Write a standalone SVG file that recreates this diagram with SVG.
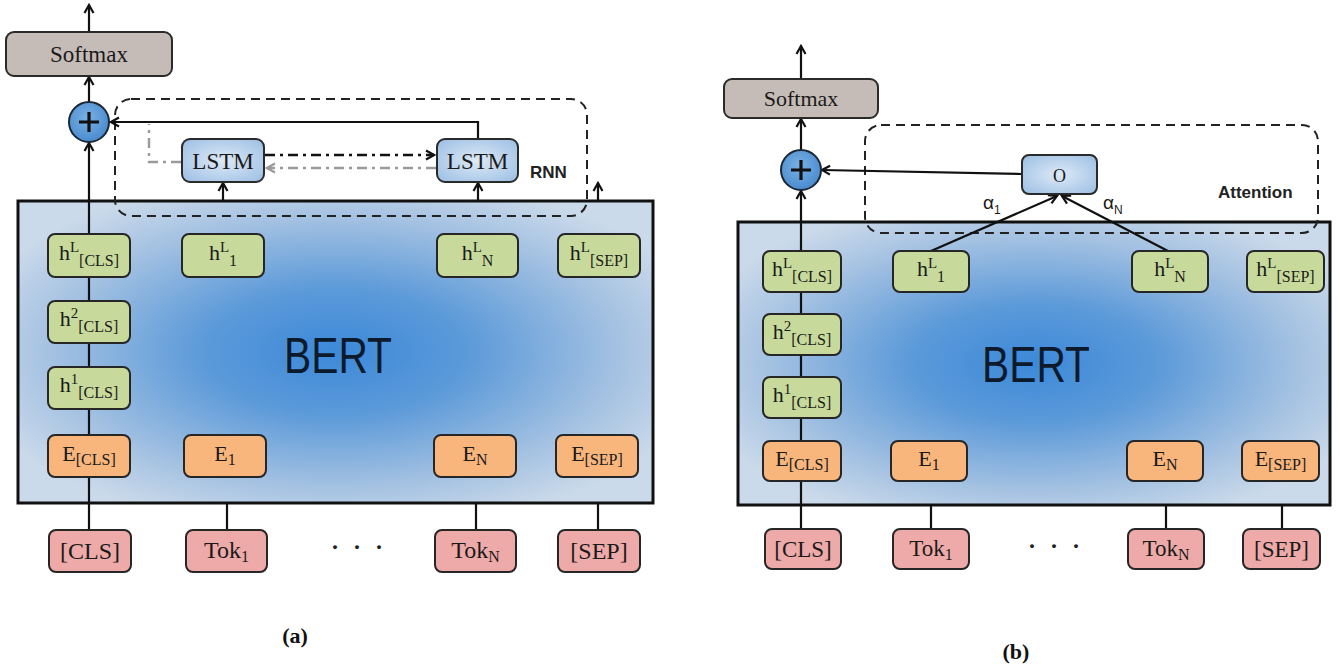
<svg xmlns="http://www.w3.org/2000/svg" width="1340" height="671" viewBox="0 0 1340 671">
  <defs>
    <style>
      .lbl { font-family: "Liberation Serif", "Times New Roman", serif; font-size: 22px; fill: #1a1a1a; text-anchor: middle; }
      .sup { font-size: 15px; }
      .sub { font-size: 16px; }
      .tok { font-size: 24px; }
      .smx { font-size: 23px; }
      .greek { font-family: "Liberation Sans", Arial, sans-serif; font-size: 19px; fill: #1a1a1a; }
      .greek .gsub { font-size: 12px; }
      .green { fill: #c8da9b; stroke: #262626; stroke-width: 2; }
      .orange { fill: #f8b57c; stroke: #262626; stroke-width: 2; }
      .pink { fill: #eeaaa8; stroke: #262626; stroke-width: 2; }
      .soft { fill: #c6bcb7; stroke: #2a2a2a; stroke-width: 2; }
      .cell { fill: url(#cellFill); stroke: #2a2a2a; stroke-width: 2; }
      .bert { stroke: #111; stroke-width: 3; }
      .dash { fill: none; stroke: #222; stroke-width: 2; stroke-dasharray: 9 6; }
      .wire { fill: none; stroke: #111; stroke-width: 2.2; }
      .arrow { marker-end: url(#arr); }
      .dd { fill: none; stroke: #111; stroke-width: 2.6; stroke-dasharray: 10 5 3 5; }
      .ddg { fill: none; stroke: #9a9a9a; stroke-width: 2.4; stroke-dasharray: 10 5 3 5; }
      .tag { font-family: "Liberation Sans", Arial, sans-serif; font-weight: bold; font-size: 17px; fill: #222; }
      .big { font-family: "Liberation Sans", Arial, sans-serif; font-size: 50px; fill: #0d1a2c; text-anchor: middle; }
      .cap { font-family: "Liberation Serif", "Times New Roman", serif; font-weight: bold; font-size: 22px; fill: #111; text-anchor: middle; }
      .dots { font-family: "Liberation Serif", "Times New Roman", serif; font-weight: bold; font-size: 24px; fill: #222; text-anchor: middle; }
      .plus { fill: url(#plusFill); stroke: #1d2733; stroke-width: 2; }
      .plusmark { stroke: #111; stroke-width: 3.2; }
    </style>
    <radialGradient id="bertFill" cx="50%" cy="50%" r="60%">
      <stop offset="0" stop-color="#3c89d9"/>
      <stop offset="0.35" stop-color="#5c9ad9"/>
      <stop offset="0.75" stop-color="#a5c2e2"/>
      <stop offset="1" stop-color="#cbdaea"/>
    </radialGradient>
    <radialGradient id="cellFill" cx="50%" cy="50%" r="65%">
      <stop offset="0" stop-color="#dde9f6"/>
      <stop offset="1" stop-color="#9fc1e5"/>
    </radialGradient>
    <radialGradient id="plusFill" cx="45%" cy="40%" r="60%">
      <stop offset="0" stop-color="#79b1e4"/>
      <stop offset="1" stop-color="#4a8bcf"/>
    </radialGradient>
    <marker id="arr" viewBox="0 0 12 12" refX="10" refY="6" markerWidth="12" markerHeight="12" markerUnits="userSpaceOnUse" orient="auto">
      <path d="M2,1.5 L10,6 L2,10.5" fill="none" stroke="#111" stroke-width="2.2"/>
    </marker>
    <marker id="arrg" viewBox="0 0 12 12" refX="10" refY="6" markerWidth="12" markerHeight="12" markerUnits="userSpaceOnUse" orient="auto">
      <path d="M2,1.5 L10,6 L2,10.5" fill="none" stroke="#9a9a9a" stroke-width="2.2"/>
    </marker>
  </defs>

  <rect width="1340" height="671" fill="#ffffff"/>

  <!-- ===== Panel (a): BERT + RNN ===== -->
  <g id="a-bert">
    <rect class="bert" x="18" y="201" width="635" height="302" fill="url(#bertFill)"/>
    <text class="big" x="338" y="373" textLength="108" lengthAdjust="spacingAndGlyphs">BERT</text>
  </g>

  <g id="a-rnn-frame">
    <rect class="dash" x="115" y="99" width="472" height="117" rx="16"/>
    <text class="tag" x="530" y="178">RNN</text>
  </g>

  <g id="a-connectors">
    <path class="wire arrow" d="M89,32 V5"/>
    <path class="wire arrow" d="M89,102 V77"/>
    <path class="wire arrow" d="M89,530 V143"/>
    <path class="wire arrow" d="M478,139 V122 H111"/>
    <path class="wire arrow" d="M223,201 V183"/>
    <path class="wire arrow" d="M478,201 V183"/>
    <path class="wire arrow" d="M598,201 V183"/>
    <path class="wire" d="M227,530 V503"/>
    <path class="wire" d="M476,530 V503"/>
    <path class="wire" d="M598,530 V503"/>
    <path class="dd" d="M265,155 H434" marker-end="url(#arr)"/>
    <path class="ddg" d="M436,168 H267" marker-end="url(#arrg)"/>
    <path class="ddg" d="M181,162 H149 V124"/>
  </g>

  <g id="a-softmax">
    <rect class="soft" x="6" y="32" width="166" height="44" rx="8"/>
    <text class="lbl smx" x="89" y="62">Softmax</text>
  </g>

  <g id="a-plus">
    <circle class="plus" cx="89" cy="122" r="20"/>
    <path class="plusmark" d="M79,122 H99 M89,112 V132"/>
  </g>

  <g id="a-lstm1">
    <rect class="cell" x="182" y="139" width="82" height="43" rx="8"/>
    <text class="lbl smx" x="223" y="169">LSTM</text>
  </g>
  <g id="a-lstm2">
    <rect class="cell" x="437" y="139" width="81" height="43" rx="8"/>
    <text class="lbl smx" x="477.5" y="169">LSTM</text>
  </g>

  <g id="a-hL-cls">
    <rect class="green" x="48" y="234" width="82" height="43" rx="7"/>
    <text class="lbl" x="89" y="260">h<tspan class="sup" dy="-8">L</tspan><tspan class="sub" dy="14">[CLS]</tspan></text>
  </g>
  <g id="a-h2-cls">
    <rect class="green" x="48" y="301" width="82" height="42" rx="7"/>
    <text class="lbl" x="89" y="326">h<tspan class="sup" dy="-8">2</tspan><tspan class="sub" dy="14">[CLS]</tspan></text>
  </g>
  <g id="a-h1-cls">
    <rect class="green" x="48" y="367" width="82" height="42" rx="7"/>
    <text class="lbl" x="89" y="392">h<tspan class="sup" dy="-8">1</tspan><tspan class="sub" dy="14">[CLS]</tspan></text>
  </g>
  <g id="a-e-cls">
    <rect class="orange" x="48" y="435" width="82" height="42" rx="7"/>
    <text class="lbl" x="89" y="461">E<tspan class="sub" dy="4">[CLS]</tspan></text>
  </g>

  <g id="a-hL-1">
    <rect class="green" x="182" y="234" width="82" height="43" rx="7"/>
    <text class="lbl" x="223" y="260">h<tspan class="sup" dy="-8">L</tspan><tspan class="sub" dy="14">1</tspan></text>
  </g>
  <g id="a-hL-n">
    <rect class="green" x="437" y="234" width="81" height="43" rx="7"/>
    <text class="lbl" x="477.5" y="260">h<tspan class="sup" dy="-8">L</tspan><tspan class="sub" dy="14">N</tspan></text>
  </g>
  <g id="a-hL-sep">
    <rect class="green" x="558" y="234" width="82" height="43" rx="7"/>
    <text class="lbl" x="599" y="260">h<tspan class="sup" dy="-8">L</tspan><tspan class="sub" dy="14">[SEP]</tspan></text>
  </g>

  <g id="a-e-1">
    <rect class="orange" x="184" y="435" width="82" height="42" rx="7"/>
    <text class="lbl" x="225" y="461">E<tspan class="sub" dy="4">1</tspan></text>
  </g>
  <g id="a-e-n">
    <rect class="orange" x="434" y="435" width="82" height="42" rx="7"/>
    <text class="lbl" x="475" y="461">E<tspan class="sub" dy="4">N</tspan></text>
  </g>
  <g id="a-e-sep">
    <rect class="orange" x="556" y="435" width="82" height="42" rx="7"/>
    <text class="lbl" x="597" y="461">E<tspan class="sub" dy="4">[SEP]</tspan></text>
  </g>

  <g id="a-tok-cls">
    <rect class="pink" x="49" y="530" width="82" height="42" rx="7"/>
    <text class="lbl tok" x="90" y="559">[CLS]</text>
  </g>
  <g id="a-tok-1">
    <rect class="pink" x="186" y="530" width="81" height="42" rx="7"/>
    <text class="lbl tok" x="226.5" y="558">Tok<tspan class="sub" dy="4">1</tspan></text>
  </g>
  <text class="dots" x="359" y="555" letter-spacing="4">· · ·</text>
  <g id="a-tok-n">
    <rect class="pink" x="435" y="530" width="81" height="42" rx="7"/>
    <text class="lbl tok" x="475.5" y="558">Tok<tspan class="sub" dy="4">N</tspan></text>
  </g>
  <g id="a-tok-sep">
    <rect class="pink" x="558" y="530" width="82" height="42" rx="7"/>
    <text class="lbl tok" x="599" y="559">[SEP]</text>
  </g>

  <text class="cap" x="295" y="643">(a)</text>

  <!-- ===== Panel (b): BERT + attention ===== -->
  <g id="b-bert">
    <rect class="bert" x="738" y="222" width="592" height="283" fill="url(#bertFill)"/>
    <text class="big" x="1036" y="382" textLength="108" lengthAdjust="spacingAndGlyphs">BERT</text>
  </g>

  <g id="b-attn-frame">
    <rect class="dash" x="865" y="125" width="453" height="108" rx="16"/>
    <text class="tag" x="1218" y="198">Attention</text>
  </g>

  <g id="b-connectors">
    <path class="wire arrow" d="M801,79 V46"/>
    <path class="wire arrow" d="M801,150 V119"/>
    <path class="wire arrow" d="M801,529 V191"/>
    <path class="wire arrow" d="M1022,174 L822,170"/>
    <path class="wire arrow" d="M931,251 L1057,196"/>
    <path class="wire arrow" d="M1168,251 L1062,196"/>
    <path class="wire" d="M931,529 V505"/>
    <path class="wire" d="M1166,529 V505"/>
    <path class="wire" d="M1282,529 V505"/>
    <text class="greek" x="983" y="209">α<tspan class="gsub" dy="5">1</tspan></text>
    <text class="greek" x="1103" y="209">α<tspan class="gsub" dy="5">N</tspan></text>
  </g>

  <g id="b-softmax">
    <rect class="soft" x="724" y="79" width="154" height="39" rx="8"/>
    <text class="lbl" x="801" y="106">Softmax</text>
  </g>

  <g id="b-plus">
    <circle class="plus" cx="801" cy="170" r="20"/>
    <path class="plusmark" d="M791,170 H811 M801,160 V180"/>
  </g>

  <g id="b-o">
    <rect class="cell" x="1022" y="155" width="75" height="39" rx="7"/>
    <text class="lbl" x="1059.5" y="182" style="font-size:18px">O</text>
  </g>

  <g id="b-hL-cls">
    <rect class="green" x="763" y="251" width="78" height="41" rx="7"/>
    <text class="lbl" x="802" y="276">h<tspan class="sup" dy="-8">L</tspan><tspan class="sub" dy="14">[CLS]</tspan></text>
  </g>
  <g id="b-h2-cls">
    <rect class="green" x="763" y="314" width="78" height="41" rx="7"/>
    <text class="lbl" x="802" y="339">h<tspan class="sup" dy="-8">2</tspan><tspan class="sub" dy="14">[CLS]</tspan></text>
  </g>
  <g id="b-h1-cls">
    <rect class="green" x="763" y="377" width="78" height="41" rx="7"/>
    <text class="lbl" x="802" y="402">h<tspan class="sup" dy="-8">1</tspan><tspan class="sub" dy="14">[CLS]</tspan></text>
  </g>
  <g id="b-e-cls">
    <rect class="orange" x="763" y="441" width="78" height="40" rx="7"/>
    <text class="lbl" x="802" y="466">E<tspan class="sub" dy="4">[CLS]</tspan></text>
  </g>

  <g id="b-hL-1">
    <rect class="green" x="893" y="251" width="76" height="41" rx="7"/>
    <text class="lbl" x="931" y="276">h<tspan class="sup" dy="-8">L</tspan><tspan class="sub" dy="14">1</tspan></text>
  </g>
  <g id="b-hL-n">
    <rect class="green" x="1132" y="251" width="76" height="41" rx="7"/>
    <text class="lbl" x="1170" y="276">h<tspan class="sup" dy="-8">L</tspan><tspan class="sub" dy="14">N</tspan></text>
  </g>
  <g id="b-hL-sep">
    <rect class="green" x="1247" y="251" width="77" height="41" rx="7"/>
    <text class="lbl" x="1285.5" y="276">h<tspan class="sup" dy="-8">L</tspan><tspan class="sub" dy="14">[SEP]</tspan></text>
  </g>

  <g id="b-e-1">
    <rect class="orange" x="891" y="441" width="76" height="40" rx="7"/>
    <text class="lbl" x="929" y="466">E<tspan class="sub" dy="4">1</tspan></text>
  </g>
  <g id="b-e-n">
    <rect class="orange" x="1127" y="441" width="76" height="40" rx="7"/>
    <text class="lbl" x="1165" y="466">E<tspan class="sub" dy="4">N</tspan></text>
  </g>
  <g id="b-e-sep">
    <rect class="orange" x="1242" y="441" width="77" height="40" rx="7"/>
    <text class="lbl" x="1280.5" y="466">E<tspan class="sub" dy="4">[SEP]</tspan></text>
  </g>

  <g id="b-tok-cls">
    <rect class="pink" x="765" y="529" width="76" height="40" rx="7"/>
    <text class="lbl" x="803" y="557" style="font-size:23px">[CLS]</text>
  </g>
  <g id="b-tok-1">
    <rect class="pink" x="893" y="529" width="76" height="40" rx="7"/>
    <text class="lbl" x="931" y="556" style="font-size:23px">Tok<tspan class="sub" dy="4">1</tspan></text>
  </g>
  <text class="dots" x="1056" y="554" letter-spacing="4">· · ·</text>
  <g id="b-tok-n">
    <rect class="pink" x="1128" y="529" width="76" height="40" rx="7"/>
    <text class="lbl" x="1166" y="556" style="font-size:23px">Tok<tspan class="sub" dy="4">N</tspan></text>
  </g>
  <g id="b-tok-sep">
    <rect class="pink" x="1243" y="529" width="77" height="40" rx="7"/>
    <text class="lbl" x="1281.5" y="557" style="font-size:23px">[SEP]</text>
  </g>

  <text class="cap" x="1016" y="659">(b)</text>
</svg>
